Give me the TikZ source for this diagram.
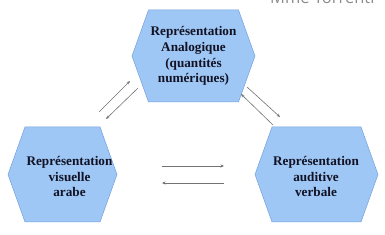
\documentclass[tikz,border=0pt]{standalone}
\usepackage{fontspec}
\setmainfont{Liberation Serif}
\newfontfamily\sigfont{Open Sans}
\usetikzlibrary{arrows.meta}
\definecolor{hexfill}{RGB}{158,199,245}
\definecolor{hexline}{RGB}{115,160,220}
\definecolor{txtcol}{RGB}{18,18,36}
\definecolor{arrcol}{RGB}{115,115,115}
\tikzset{
  hexa/.style={fill=hexfill, draw=hexline, line width=0.5pt, line join=miter},
  lbl/.style={align=center, font=\fontsize{13.2}{15.7}\selectfont\bfseries, text=txtcol, inner sep=0pt},
  conn/.style={draw=arrcol, line width=0.6pt, -{Stealth[length=3.5pt,width=3pt]}},
}
\newcommand\myhex[5]{% cx cy halfwidth halfheight inset
  \path[hexa] (#1-#3,#2) -- (#1-#3+#5,#2+#4) -- (#1+#3-#5,#2+#4) -- (#1+#3,#2)
    -- (#1+#3-#5,#2-#4) -- (#1-#3+#5,#2-#4) -- cycle;}
\begin{document}
\begin{tikzpicture}[x=1pt,y=1pt]
\useasboundingbox (0,0) rectangle (385,235);
\begin{scope}
\clip (0,0) rectangle (385,235);
\node[anchor=base west, text=black!45, inner sep=0pt, font=\sigfont\fontsize{16.5}{18}\selectfont] (sig) at (270,231) {Mme Torrenti};
\end{scope}
\myhex{193.5}{179}{61.5}{46}{16.5}
\myhex{62.5}{60.5}{54.5}{47.5}{17}
\myhex{316.5}{60.5}{61.5}{47.5}{17}
\node[lbl] (top) at (193.5,179) {Représentation\\Analogique\\(quantités\\numériques)};
\node[lbl] (left) at (69.5,58.5) {Représentation\\visuelle\\arabe};
\node[lbl] (right) at (316,58.5) {Représentation\\auditive\\verbale};
\coordinate (a1s) at (99,123);  \coordinate (a1e) at (130,154);
\coordinate (a2s) at (138,147); \coordinate (a2e) at (106,116);
\coordinate (a3s) at (273,110); \coordinate (a3e) at (241,141);
\coordinate (a4s) at (247,148); \coordinate (a4e) at (280,118);
\coordinate (a5s) at (162,69);  \coordinate (a5e) at (224,69);
\coordinate (a6s) at (224,52);  \coordinate (a6e) at (162,52);
\draw[conn] (a1s) -- (a1e);
\draw[conn] (a2s) -- (a2e);
\draw[conn] (a3s) -- (a3e);
\draw[conn] (a4s) -- (a4e);
\draw[conn] (a5s) -- (a5e);
\draw[conn] (a6s) -- (a6e);
\end{tikzpicture}
\end{document}
